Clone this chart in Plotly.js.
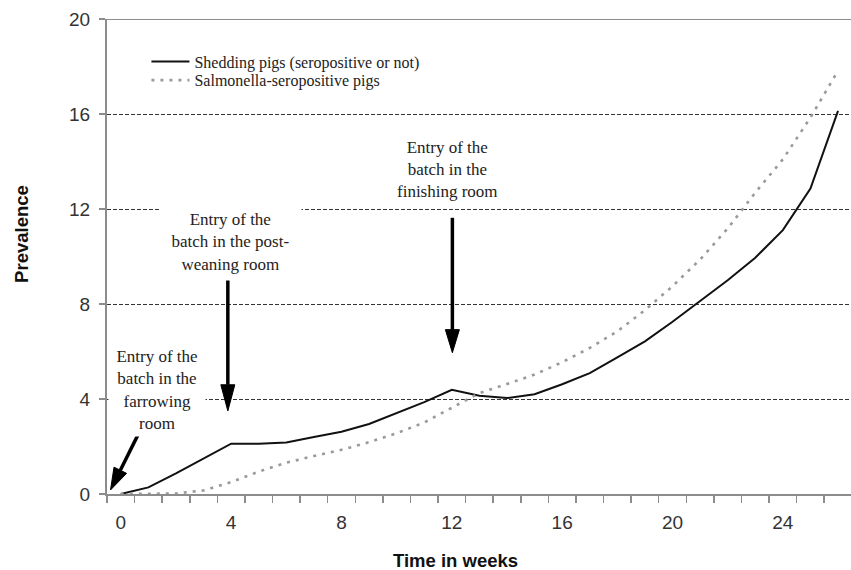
<!DOCTYPE html>
<html>
<head>
<meta charset="utf-8">
<script src="https://cdn.plot.ly/plotly-3.0.1.min.js"></script>
<style>html,body{margin:0;padding:0;background:#fff;}#chart{width:851px;height:570px;}</style>
</head>
<body>
<div id="chart"></div>
<script>
// Weeks (categories)
const weeks = [0,1,2,3,4,5,6,7,8,9,10,11,12,13,14,15,16,17,18,19,20,21,22,23,24,25,26];
// Shedding pigs (seropositive or not)
const shedding = [0,0.28,0.87,1.5,2.12,2.12,2.17,2.4,2.62,2.95,3.4,3.87,4.39,4.14,4.04,4.2,4.62,5.09,5.75,6.43,7.25,8.13,9.0,9.95,11.11,12.86,16.13];
// Salmonella-seropositive pigs
const seropositive = [0,0,0.02,0.15,0.5,0.94,1.32,1.6,1.86,2.18,2.56,3.01,3.62,4.25,4.63,5.03,5.55,6.15,6.85,7.74,8.75,9.87,11.18,12.69,14.09,15.85,17.82];
// Tick labels
const xTickVals = [0,4,8,12,16,20,24];
const yTickVals = [0,4,8,12,16,20];
const seriesNames = ["Shedding pigs (seropositive or not)", "Salmonella-seropositive pigs"];

const serif = "Liberation Serif, Times New Roman, serif";
const sans = "Liberation Sans, Arial, sans-serif";
const axisGray = "#8c8c8c";

const traces = [
  {x: weeks, y: shedding, name: seriesNames[0], type: "scatter", mode: "lines",
   line: {color: "#111", width: 2}, legend: "legend"},
  {x: weeks, y: seropositive, name: seriesNames[1], type: "scatter", mode: "lines",
   line: {color: "#9a9a9a", width: 2.6, dash: "3px,6px"}, legend: "legend2"}
];

function arrowShapes(){
  const s = [];
  const black = "#000";
  // farrowing arrow (diagonal)
  s.push({type:"line", xref:"x", yref:"y", x0:0.652, y0:2.561, x1:-0.018, y1:1.0, line:{color:black,width:3.5}});
  s.push({type:"path", xref:"x", yref:"y", path:"M-0.373,0.169 L0.21,0.869 L-0.246,1.131 Z", fillcolor:black, line:{color:black,width:1}});
  // post-weaning arrow
  s.push({type:"line", xref:"x", yref:"y", x0:3.88, y0:9.03, x1:3.88, y1:4.6, line:{color:black,width:3.5}});
  s.push({type:"path", xref:"x", yref:"y", path:"M3.626,4.6 L4.134,4.6 L3.88,3.5 Z", fillcolor:black, line:{color:black,width:1}});
  // finishing arrow
  s.push({type:"line", xref:"x", yref:"y", x0:12.02, y0:11.63, x1:12.02, y1:6.92, line:{color:black,width:3.5}});
  s.push({type:"path", xref:"x", yref:"y", path:"M11.766,6.92 L12.274,6.92 L12.02,5.95 Z", fillcolor:black, line:{color:black,width:1}});
  // top border
  s.push({type:"line", xref:"paper", yref:"y", x0:0, x1:1, y0:20, y1:20, line:{color:axisGray,width:2}});
  return s;
}

const legendBase = {xanchor:"left", yanchor:"top", bgcolor:"rgba(0,0,0,0)",
  font:{family:serif, size:16, color:"#222"}, itemwidth:38, tracegroupgap:0};

const layout = {
  width: 851, height: 570,
  margin: {l:107, r:0, t:19, b:76, pad:0},
  paper_bgcolor: "#fff", plot_bgcolor: "#fff",
  showlegend: true,
  legend: Object.assign({x:0.053, y:0.946}, legendBase),
  legend2: Object.assign({x:0.053, y:0.907}, legendBase),
  xaxis: {
    range:[-0.5, 26.47], tickmode:"array", tickvals:xTickVals, ticktext:xTickVals.map(String),
    ticks:"", showgrid:false, zeroline:false, showline:true, linecolor:axisGray, linewidth:2,
    tickfont:{family:sans, size:19, color:"#333"}, ticklabelstandoff:10,
    minor:{tickmode:"linear", tick0:0.5, dtick:1, ticks:"outside", ticklen:7, tickwidth:1.5, tickcolor:axisGray, showgrid:false},
    fixedrange:true
  },
  yaxis: {
    range:[0,20], tickmode:"array", tickvals:yTickVals, ticktext:yTickVals.map(String),
    ticks:"outside", ticklen:6, tickwidth:1.5, tickcolor:axisGray,
    showline:true, linecolor:axisGray, linewidth:2, zeroline:false,
    showgrid:true, gridcolor:"#333", gridwidth:1, griddash:"4px,2px",
    tickfont:{family:sans, size:19, color:"#333"}, ticklabelstandoff:5,
    fixedrange:true
  },
  shapes: arrowShapes(),
  annotations: [
    {xref:"x", yref:"y", x:1.33, y:4.39, showarrow:false, text:"Entry of the<br>batch in the<br>farrowing<br>room",
     font:{family:serif, size:17, color:"#222"}, bgcolor:"#fff", width:96, height:92, borderpad:0, align:"center"},
    {xref:"x", yref:"y", x:3.97, y:10.59, showarrow:false, text:"Entry of the<br>batch in the post-<br>weaning room",
     font:{family:serif, size:17, color:"#222"}, bgcolor:"#fff", width:141, height:76, borderpad:0, align:"center"},
    {xref:"x", yref:"y", x:11.84, y:13.67, showarrow:false, text:"Entry of the<br>batch in the<br>finishing room",
     font:{family:serif, size:17, color:"#222"}, align:"center"},
    {xref:"paper", yref:"paper", x:-0.114, y:0.548, xanchor:"center", yanchor:"middle", showarrow:false, text:"Prevalence", textangle:-90,
     font:{family:sans, size:18.5, color:"#111", weight:"bold"}},
    {xref:"paper", yref:"paper", x:0.469, y:-0.141, xanchor:"center", yanchor:"middle", showarrow:false, text:"Time in weeks",
     font:{family:sans, size:18.5, color:"#111", weight:"bold"}}
  ]
};

Plotly.newPlot("chart", traces, layout, {staticPlot:true, displayModeBar:false});
</script>
</body>
</html>
